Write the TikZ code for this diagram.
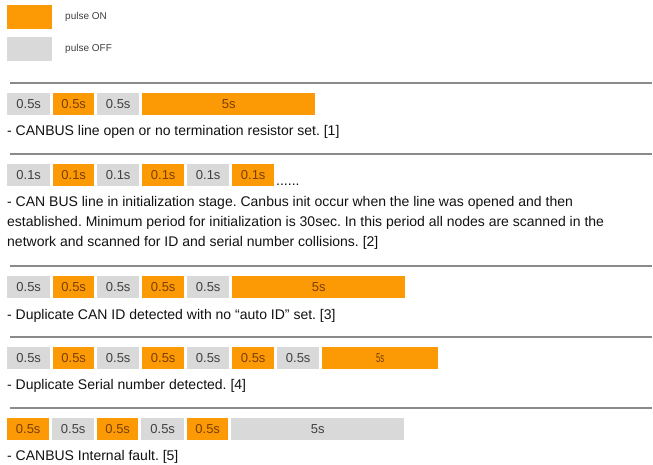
\documentclass[tikz,border=0pt]{standalone}
\usepackage{fontspec}
\setmainfont{Liberation Sans}
\frenchspacing
\definecolor{pon}{HTML}{FB9A05}
\definecolor{poff}{HTML}{D9D9D9}
\definecolor{ontext}{HTML}{7A3E00}
\definecolor{offtext}{HTML}{404040}
\definecolor{sepc}{HTML}{8A8A8A}
\definecolor{bodyc}{HTML}{111111}
\tikzset{
  pulse/.style={anchor=north west, inner sep=0pt, minimum height=22pt, font=\fontsize{13}{15}\selectfont},
  on/.style={pulse, fill=pon, text=ontext},
  off/.style={pulse, fill=poff, text=offtext},
  sep/.style={draw=sepc, line width=2pt},
  desc/.style={anchor=base west, inner sep=0pt, text=bodyc, font=\fontsize{14}{16}\selectfont},
  legtext/.style={anchor=west, inner sep=0pt, text=offtext, font=\fontsize{10}{12}\selectfont},
}
\newcommand\pb[6]{\node[#2, minimum width={(#4-#3)*1pt}] (#1) at (#3,#5) {#6};}
\begin{document}
\begin{tikzpicture}[x=1pt,y=-1pt]
\useasboundingbox (0,0) rectangle (653,464);
% legend
\node[on, minimum width=45pt, minimum height=24pt] (lon) at (7,5) {};
\node[off, minimum width=45pt, minimum height=24pt] (loff) at (7,37) {};
\node[legtext] (lont) at (65,17) {pulse ON};
\node[legtext] (lofft) at (65,49) {pulse OFF};
% separators
\draw[sep] (10,82.5) -- (652,82.5);
\draw[sep] (10,153.5) -- (652,153.5);
\draw[sep] (10,266) -- (652,266);
\draw[sep] (10,337) -- (652,337);
\draw[sep] (10,408) -- (652,408);
% row 1
\pb{a1}{off}{7}{50}{93}{0.5s}
\pb{a2}{on}{53}{94}{93}{0.5s}
\pb{a3}{off}{97}{139}{93}{0.5s}
\pb{a4}{on}{142}{315}{93}{5s}
\node[desc] (ad) at (7,135) {- CANBUS line open or no termination resistor set. [1]};
% row 2
\pb{b1}{off}{7}{50}{164}{0.1s}
\pb{b2}{on}{53}{94}{164}{0.1s}
\pb{b3}{off}{97}{139}{164}{0.1s}
\pb{b4}{on}{142}{184}{164}{0.1s}
\pb{b5}{off}{187}{229}{164}{0.1s}
\pb{b6}{on}{232}{274}{164}{0.1s}
\node[desc] (bdots) at (276,185) {......};
\node[desc] (bd1) at (7,206) {- CAN BUS line in initialization stage. Canbus init occur when the line was opened and then};
\node[desc] (bd2) at (7,226) {established. Minimum period for initialization is 30sec. In this period all nodes are scanned in the};
\node[desc] (bd3) at (7,246) {network and scanned for ID and serial number collisions. [2]};
% row 3
\pb{c1}{off}{7}{50}{276}{0.5s}
\pb{c2}{on}{53}{94}{276}{0.5s}
\pb{c3}{off}{97}{139}{276}{0.5s}
\pb{c4}{on}{142}{184}{276}{0.5s}
\pb{c5}{off}{187}{229}{276}{0.5s}
\pb{c6}{on}{232}{405}{276}{5s}
\node[desc] (cd) at (7,319) {- Duplicate CAN ID detected with no \textquotedblleft auto ID\textquotedblright\ set. [3]};
% row 4
\pb{d1}{off}{7}{50}{347}{0.5s}
\pb{d2}{on}{53}{94}{347}{0.5s}
\pb{d3}{off}{97}{139}{347}{0.5s}
\pb{d4}{on}{142}{184}{347}{0.5s}
\pb{d5}{off}{187}{229}{347}{0.5s}
\pb{d6}{on}{232}{274}{347}{0.5s}
\pb{d7}{off}{277}{319}{347}{0.5s}
\pb{d8}{on}{322}{438}{347}{\scalebox{0.6}[1]{5s}}
\node[desc] (dd) at (7,389) {- Duplicate Serial number detected. [4]};
% row 5
\pb{e1}{on}{7}{49}{418}{0.5s}
\pb{e2}{off}{52}{94}{418}{0.5s}
\pb{e3}{on}{97}{138}{418}{0.5s}
\pb{e4}{off}{141}{184}{418}{0.5s}
\pb{e5}{on}{187}{228}{418}{0.5s}
\pb{e6}{off}{231}{404}{418}{5s}
\node[desc] (ed) at (7,460) {- CANBUS Internal fault. [5]};
\end{tikzpicture}
\end{document}
